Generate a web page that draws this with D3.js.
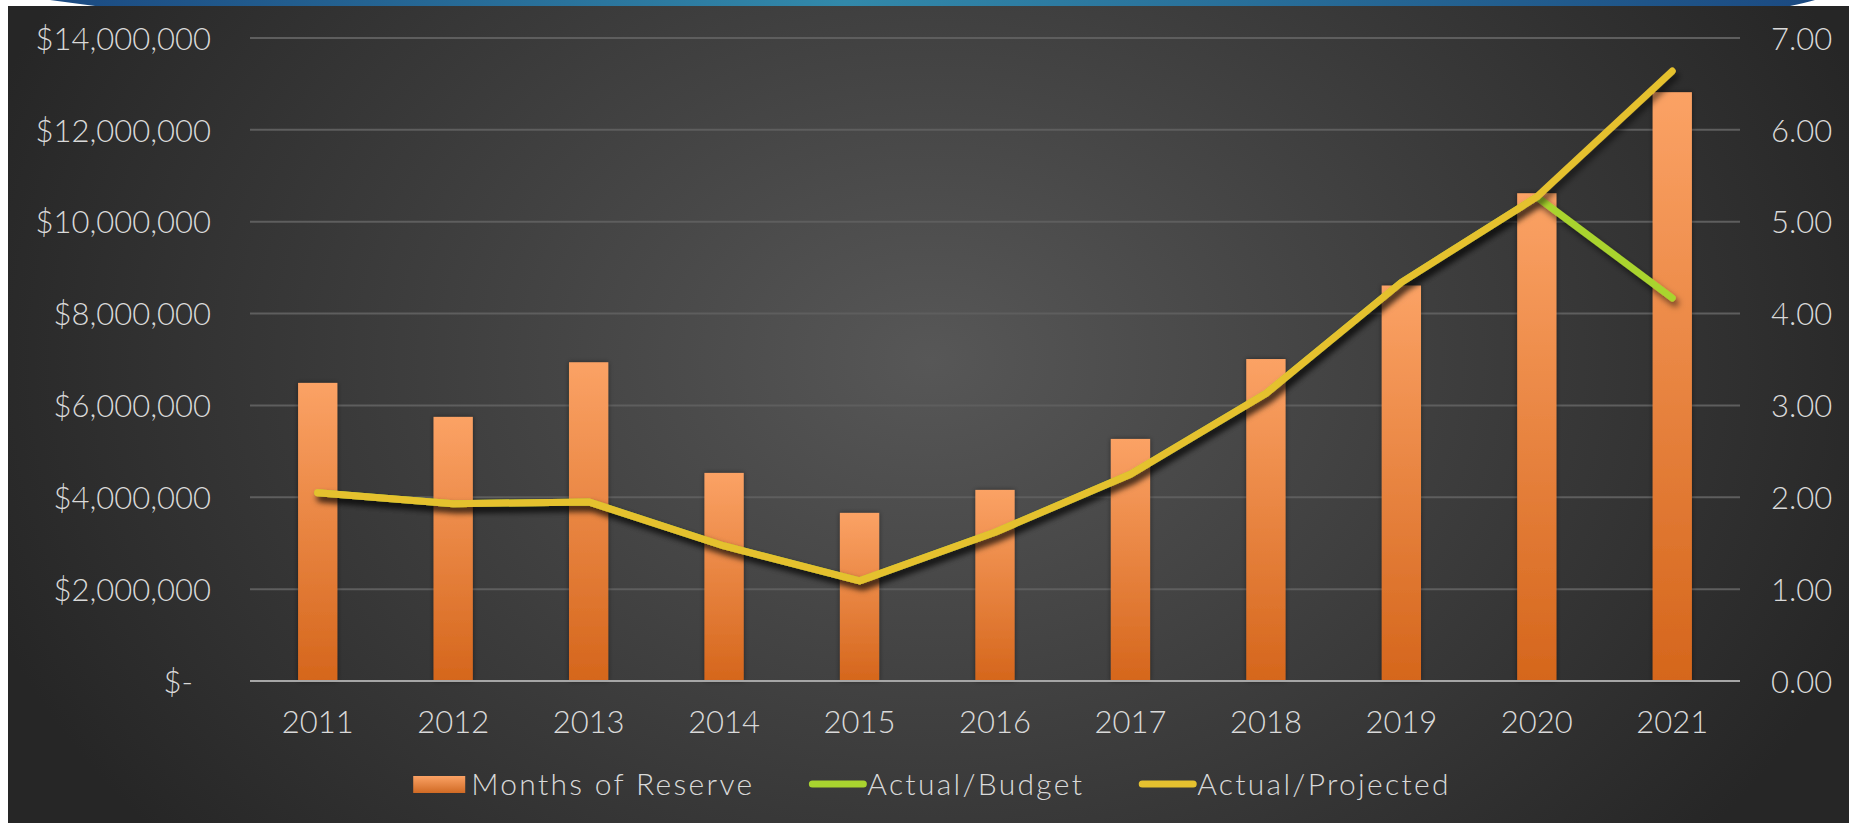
<!DOCTYPE html>
<html>
<head>
<meta charset="utf-8">
<script src="https://cdn.jsdelivr.net/npm/d3@7"></script>
<style>
  html, body { margin: 0; padding: 0; background: #fff; }
  svg { display: block; }
  text { font-family: Lato, 'Open Sans', sans-serif; fill: #d9d9d9; }
</style>
</head>
<body>
<script>
const years = ['2011', '2012', '2013', '2014', '2015', '2016', '2017', '2018', '2019', '2020', '2021'];
const monthsOfReserve = [6490000, 5750000, 6940000, 4530000, 3660000, 4160000, 5270000, 7010000, 8610000, 10620000, 12820000];
const actualBudget = [2.05, 1.93, 1.95, 1.47, 1.09, 1.62, 2.25, 3.13, 4.34, 5.27, 4.17];
const actualProjected = [2.05, 1.93, 1.95, 1.47, 1.09, 1.62, 2.25, 3.13, 4.34, 5.27, 6.64];
const leftTicks = [0, 2000000, 4000000, 6000000, 8000000, 10000000, 12000000, 14000000];
const rightTicks = [0, 1, 2, 3, 4, 5, 6, 7];

const w = 1849;
const h = 823;
const plot = { left: 250, right: 1740, top: 38, bottom: 681 };

const svg = d3.select('body')
    .append('svg')
    .attr('width', w)
    .attr('height', h);

const defs = svg.append('defs');

// background glow
const bg = defs.append('radialGradient')
    .attr('id', 'bg')
    .attr('gradientUnits', 'userSpaceOnUse')
    .attr('cx', 930).attr('cy', 360).attr('r', 1000)
    .attr('gradientTransform', 'translate(930,360) scale(1,0.75) translate(-930,-360)');
bg.append('stop').attr('offset', '0%').attr('stop-color', '#575757');
bg.append('stop').attr('offset', '55%').attr('stop-color', '#3c3c3c');
bg.append('stop').attr('offset', '100%').attr('stop-color', '#262626');

const barGrad = defs.append('linearGradient')
    .attr('id', 'barGrad')
    .attr('x1', 0).attr('y1', 0).attr('x2', 0).attr('y2', 1);
barGrad.append('stop').attr('offset', '0%').attr('stop-color', '#fba265');
barGrad.append('stop').attr('offset', '100%').attr('stop-color', '#d5661c');

const swatchGrad = defs.append('linearGradient')
    .attr('id', 'swatchGrad')
    .attr('x1', 0).attr('y1', 0).attr('x2', 0).attr('y2', 1);
swatchGrad.append('stop').attr('offset', '0%').attr('stop-color', '#fba265');
swatchGrad.append('stop').attr('offset', '100%').attr('stop-color', '#d06a24');

const band = defs.append('linearGradient')
    .attr('id', 'band')
    .attr('x1', 0).attr('y1', 0).attr('x2', 1).attr('y2', 0);
band.append('stop').attr('offset', '0%').attr('stop-color', '#1b4a82');
band.append('stop').attr('offset', '45%').attr('stop-color', '#3289aa');
band.append('stop').attr('offset', '100%').attr('stop-color', '#1b4a82');

const shadow = defs.append('filter')
    .attr('id', 'shadow')
    .attr('x', '-10%').attr('y', '-10%').attr('width', '130%').attr('height', '130%');
shadow.append('feDropShadow')
    .attr('dx', 3).attr('dy', 5).attr('stdDeviation', 3)
    .attr('flood-color', '#000').attr('flood-opacity', 0.55);

const barShadow = defs.append('filter')
    .attr('id', 'barShadow')
    .attr('x', '-30%').attr('y', '-5%').attr('width', '160%').attr('height', '110%');
barShadow.append('feDropShadow')
    .attr('dx', 0).attr('dy', 0).attr('stdDeviation', 2.5)
    .attr('flood-color', '#000').attr('flood-opacity', 0.45);

// slide frame
svg.append('rect')
    .attr('x', 8).attr('y', 6)
    .attr('width', w - 8).attr('height', h - 6)
    .attr('fill', 'url(#bg)');
svg.append('path')
    .attr('d', 'M50,0 L1815,0 C1808,2 1800,4 1790,6 L95,6 C80,4 65,2 50,0 Z')
    .attr('fill', 'url(#band)');

// scales
const x = d3.scaleBand()
    .domain(years)
    .range([plot.left, plot.right])
    .paddingInner(0.71)
    .paddingOuter(0.355);

const yLeft = d3.scaleLinear()
    .domain([0, 14000000])
    .range([plot.bottom, plot.top]);

const yRight = d3.scaleLinear()
    .domain([0, 7])
    .range([plot.bottom, plot.top]);

// gridlines
svg.append('g')
    .selectAll('line')
    .data(leftTicks.slice(1))
    .enter()
    .append('line')
    .attr('x1', plot.left)
    .attr('x2', plot.right)
    .attr('y1', (d) => yLeft(d))
    .attr('y2', (d) => yLeft(d))
    .attr('stroke', '#5e5e5e')
    .attr('stroke-width', 2);

// bars
svg.append('g')
    .selectAll('rect')
    .data(monthsOfReserve)
    .enter()
    .append('rect')
    .attr('x', (d, i) => x(years[i]))
    .attr('y', (d) => yLeft(d))
    .attr('width', x.bandwidth())
    .attr('height', (d) => plot.bottom - yLeft(d))
    .attr('fill', 'url(#barGrad)')
    .attr('filter', 'url(#barShadow)');

// baseline
svg.append('line')
    .attr('x1', plot.left)
    .attr('x2', plot.right)
    .attr('y1', plot.bottom)
    .attr('y2', plot.bottom)
    .attr('stroke', '#a6a6a6')
    .attr('stroke-width', 2);

// lines
const line = d3.line()
    .x((d, i) => x(years[i]) + x.bandwidth() / 2)
    .y((d) => yRight(d));

svg.append('path')
    .datum(actualBudget)
    .attr('d', line)
    .attr('fill', 'none')
    .attr('stroke', '#a9d42f')
    .attr('stroke-width', 7)
    .attr('stroke-linecap', 'round')
    .attr('stroke-linejoin', 'round')
    .attr('filter', 'url(#shadow)');

svg.append('path')
    .datum(actualProjected)
    .attr('d', line)
    .attr('fill', 'none')
    .attr('stroke', '#e5c12f')
    .attr('stroke-width', 7)
    .attr('stroke-linecap', 'round')
    .attr('stroke-linejoin', 'round')
    .attr('filter', 'url(#shadow)');

// axes
const money = d3.format(',');
const leftAxis = d3.axisLeft(yLeft)
    .tickValues(leftTicks)
    .tickSize(0)
    .tickPadding(0)
    .tickFormat((d) => d === 0 ? '$-' : '$' + money(d));

const gLeft = svg.append('g')
    .attr('transform', 'translate(211,0)')
    .call(leftAxis);
gLeft.select('.domain').remove();
gLeft.selectAll('text')
    .attr('font-size', 31)
    .attr('dy', '0.36em')
    .attr('fill', '#d9d9d9')
    .style('font-family', 'Lato, sans-serif')
    .style('font-weight', 300);
gLeft.selectAll('.tick')
    .filter((d) => d === 0)
    .select('text')
    .attr('x', -18);

const rightAxis = d3.axisRight(yRight)
    .tickValues(rightTicks)
    .tickSize(0)
    .tickPadding(0)
    .tickFormat(d3.format('.2f'));

const gRight = svg.append('g')
    .attr('transform', 'translate(1771,0)')
    .call(rightAxis);
gRight.select('.domain').remove();
gRight.selectAll('text')
    .attr('font-size', 31)
    .attr('dy', '0.36em')
    .attr('fill', '#d9d9d9')
    .style('font-family', 'Lato, sans-serif')
    .style('font-weight', 300);

const bottomAxis = d3.axisBottom(x)
    .tickSize(0)
    .tickPadding(0);

const gBottom = svg.append('g')
    .attr('transform', 'translate(0,' + plot.bottom + ')')
    .call(bottomAxis);
gBottom.select('.domain').remove();
gBottom.selectAll('text')
    .attr('font-size', 31)
    .attr('y', 52)
    .attr('dy', 0)
    .attr('fill', '#d9d9d9')
    .style('font-family', 'Lato, sans-serif')
    .style('font-weight', 300);

// legend
const legendItems = [
    { name: 'Months of Reserve', type: 'bar', color: 'url(#swatchGrad)' },
    { name: 'Actual/Budget', type: 'line', color: '#a9d42f' },
    { name: 'Actual/Projected', type: 'line', color: '#e5c12f' }
];

const legend = svg.append('g');
let cursor = 0;
const legendY = 784;
legendItems.forEach((item, i) => {
    const g = legend.append('g').attr('transform', 'translate(' + cursor + ',0)');
    if (item.type === 'bar') {
        g.append('rect')
            .attr('x', 0).attr('y', legendY - 8)
            .attr('width', 52).attr('height', 17)
            .attr('fill', item.color);
    } else {
        g.append('line')
            .attr('x1', 3).attr('x2', 54)
            .attr('y1', legendY).attr('y2', legendY)
            .attr('stroke', item.color)
            .attr('stroke-width', 7)
            .attr('stroke-linecap', 'round');
    }
    const t = g.append('text')
        .attr('x', 58)
        .attr('y', legendY)
        .attr('dy', '0.36em')
        .attr('font-size', 30)
        .style('font-weight', 300)
        .style('letter-spacing', '2.3px')
        .text(item.name);
    cursor += 58 + t.node().getComputedTextLength() + 55;
});
const legendWidth = cursor - 55;
legend.attr('transform', 'translate(' + (932 - legendWidth / 2) + ',0)');
</script>
</body>
</html>
